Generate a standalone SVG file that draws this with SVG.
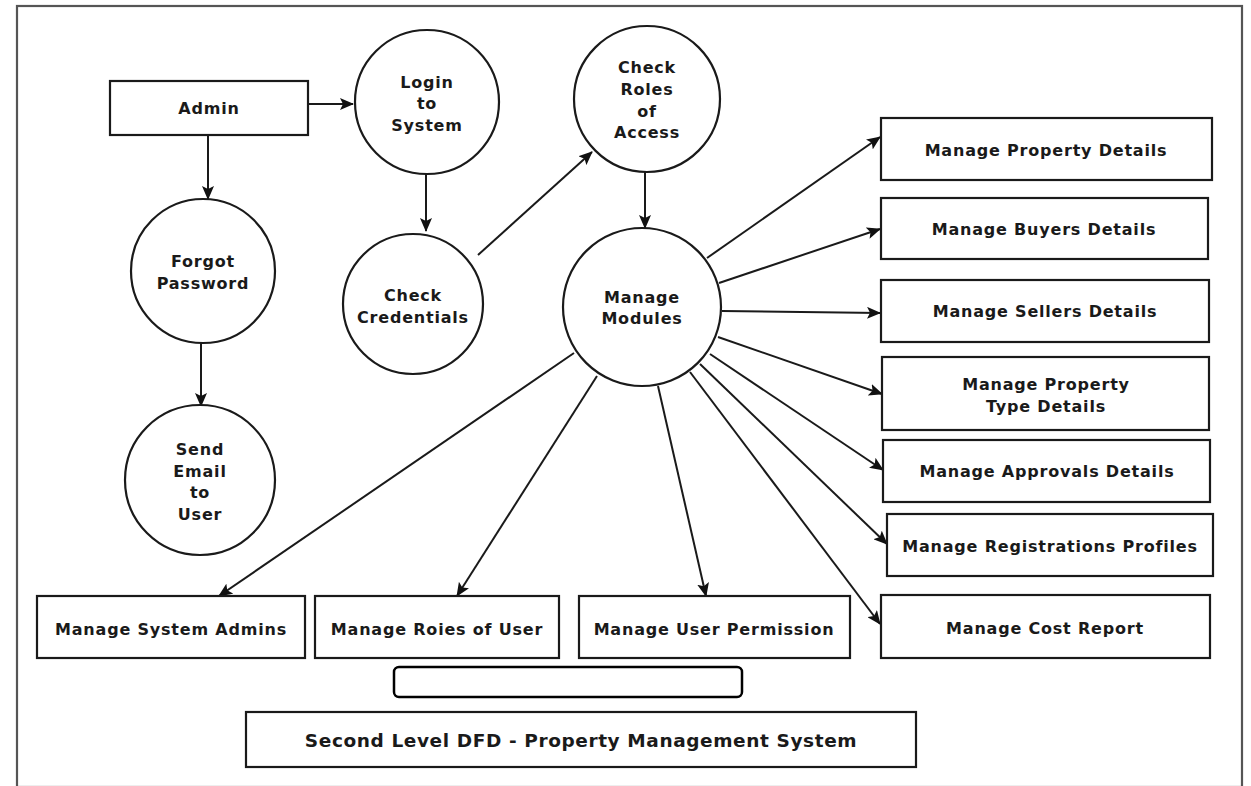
<svg xmlns="http://www.w3.org/2000/svg" width="1251" height="786" viewBox="0 0 1251 786">
<defs>
<marker id="ah" viewBox="0 0 14 12" refX="13" refY="6" markerWidth="14" markerHeight="12" markerUnits="userSpaceOnUse" orient="auto">
<path d="M0,0 L14,6 L0,12 L3,6 Z" fill="#111"/>
</marker>
<style>
.box{fill:#fff;stroke:#1a1a1a;stroke-width:2.2}
.circ{fill:#fff;stroke:#1a1a1a;stroke-width:2.2}
.t{font-family:"DejaVu Sans",sans-serif;font-weight:bold;font-size:16px;letter-spacing:0.8px;fill:#1a1a1a;text-anchor:middle;dominant-baseline:central}
.conn line{stroke:#1a1a1a;stroke-width:2;marker-end:url(#ah)}
</style>
</defs>
<rect x="0" y="0" width="1251" height="786" fill="#fff"/>
<rect x="17" y="6" width="1225" height="781" fill="none" stroke="#555" stroke-width="2.2"/>

<g id="connectors" class="conn">
<line x1="308" y1="104" x2="353" y2="104"/>
<line x1="208" y1="135" x2="208" y2="199"/>
<line x1="201" y1="343" x2="201" y2="406"/>
<line x1="426" y1="174" x2="426" y2="231"/>
<line x1="478" y1="255" x2="592" y2="152"/>
<line x1="645" y1="172" x2="645" y2="228"/>
<line x1="707" y1="258" x2="880" y2="137"/>
<line x1="719" y1="283" x2="880" y2="229"/>
<line x1="722" y1="311" x2="880" y2="313"/>
<line x1="718" y1="337" x2="882" y2="394"/>
<line x1="710" y1="354" x2="883" y2="470"/>
<line x1="700" y1="364" x2="887" y2="544"/>
<line x1="690" y1="372" x2="880" y2="624"/>
<line x1="658" y1="386" x2="706" y2="596"/>
<line x1="597" y1="376" x2="457" y2="596"/>
<line x1="574" y1="353" x2="219" y2="596"/>
</g>

<g id="admin"><rect class="box" x="110" y="81" width="198" height="54"/><text class="t" x="209" y="108">Admin</text></g>
<g id="login"><circle class="circ" cx="427" cy="102" r="72"/><text class="t" x="427" y="82">Login</text><text class="t" x="427" y="103">to</text><text class="t" x="427" y="125">System</text></g>
<g id="forgot"><circle class="circ" cx="203" cy="271" r="72"/><text class="t" x="203" y="261">Forgot</text><text class="t" x="203" y="283">Password</text></g>
<g id="sendemail"><circle class="circ" cx="200" cy="480" r="75"/><text class="t" x="200" y="449">Send</text><text class="t" x="200" y="471">Email</text><text class="t" x="200" y="492">to</text><text class="t" x="200" y="514">User</text></g>
<g id="checkcred"><circle class="circ" cx="413" cy="304" r="70"/><text class="t" x="413" y="295">Check</text><text class="t" x="413" y="317">Credentials</text></g>
<g id="checkroles"><circle class="circ" cx="647" cy="99" r="73"/><text class="t" x="647" y="67">Check</text><text class="t" x="647" y="89">Roles</text><text class="t" x="647" y="111">of</text><text class="t" x="647" y="132">Access</text></g>
<g id="modules"><circle class="circ" cx="642" cy="307" r="79"/><text class="t" x="642" y="297">Manage</text><text class="t" x="642" y="318">Modules</text></g>

<g id="propdetails"><rect class="box" x="881" y="118" width="331" height="62"/><text class="t" x="1046" y="150">Manage Property Details</text></g>
<g id="buyers"><rect class="box" x="881" y="198" width="327" height="61"/><text class="t" x="1044" y="229">Manage Buyers Details</text></g>
<g id="sellers"><rect class="box" x="881" y="280" width="328" height="62"/><text class="t" x="1045" y="311">Manage Sellers Details</text></g>
<g id="proptype"><rect class="box" x="882" y="357" width="327" height="73"/><text class="t" x="1046" y="384">Manage Property</text><text class="t" x="1046" y="406">Type Details</text></g>
<g id="approvals"><rect class="box" x="883" y="440" width="327" height="62"/><text class="t" x="1047" y="471">Manage Approvals Details</text></g>
<g id="registrations"><rect class="box" x="887" y="514" width="326" height="62"/><text class="t" x="1050" y="546">Manage Registrations Profiles</text></g>
<g id="costreport"><rect class="box" x="881" y="595" width="329" height="63"/><text class="t" x="1045" y="628">Manage Cost Report</text></g>
<g id="sysadmins"><rect class="box" x="37" y="596" width="268" height="62"/><text class="t" x="171" y="629">Manage System Admins</text></g>
<g id="rolesuser"><rect class="box" x="315" y="596" width="244" height="62"/><text class="t" x="437" y="629">Manage Roies of User</text></g>
<g id="userperm"><rect class="box" x="579" y="596" width="271" height="62"/><text class="t" x="714" y="629">Manage User Permission</text></g>
<g id="blank"><rect x="394" y="667" width="348" height="30" rx="5" fill="#fff" stroke="#000" stroke-width="2.5"/></g>
<g id="title"><rect class="box" x="246" y="712" width="670" height="55"/><text class="t" x="581" y="740" style="font-size:18.5px;letter-spacing:0.6px">Second Level DFD - Property Management System</text></g>
</svg>
